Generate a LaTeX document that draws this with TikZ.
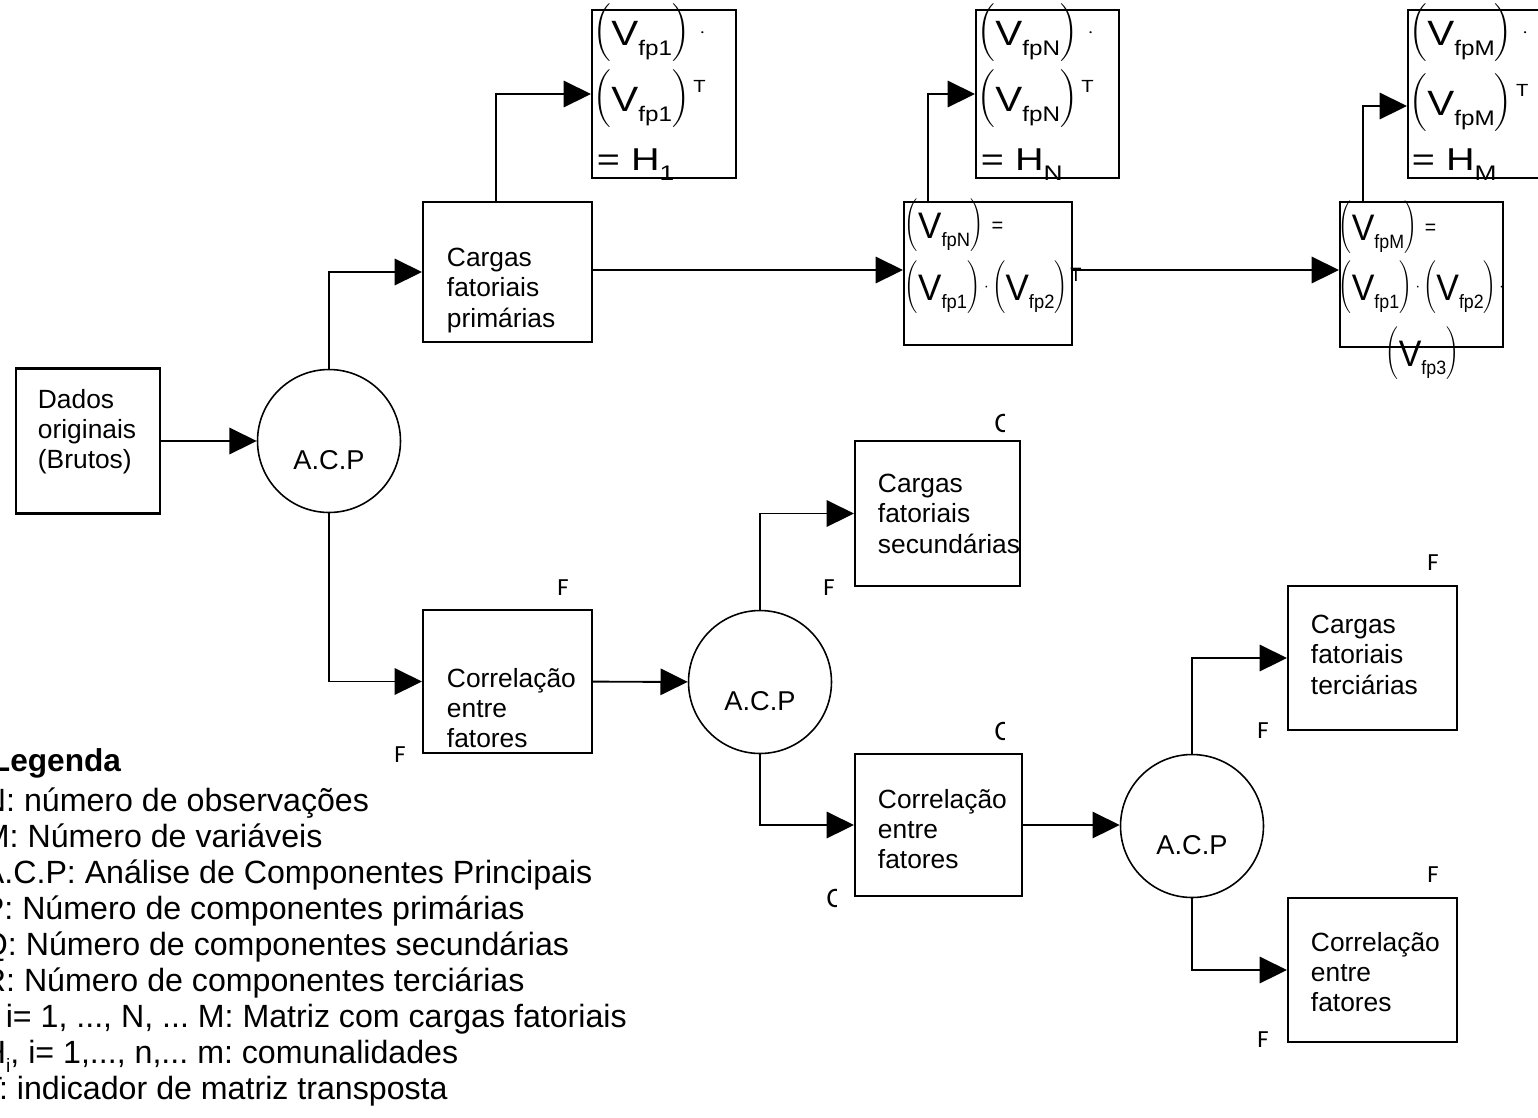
\documentclass[tikz,border=0pt]{standalone}
\usepackage{amsmath}
\usepackage{fontspec}
\setmainfont{Liberation Sans}
\newfontfamily\marcafont{Carlito}
\usetikzlibrary{positioning,arrows.meta}
% V_fp nas caixas H (matematica a 11pt) e nas caixas V (a 10pt)
\newcommand{\VH}[1]{\left(\rule[-10.25pt]{0pt}{26pt}\raisebox{-4.4pt}{\fontsize{20}{20}\selectfont V\raisebox{-5.5pt}{\fontsize{12}{12}\selectfont fp#1}}\right)}
\newcommand{\VV}[1]{\left(\rule[-9pt]{0pt}{23pt}\raisebox{-5pt}{\fontsize{21}{21}\selectfont V\raisebox{-4.5pt}{\fontsize{11}{11}\selectfont fp#1}}\right)}
\newcommand{\supT}[2]{\raisebox{#1}{\fontsize{#2}{#2}\selectfont T}}
\newcommand{\Hsub}[1]{\fontsize{18}{18}\selectfont = H\raisebox{-5.7pt}{\fontsize{12}{12}\selectfont #1}}
\newcommand{\igual}{\mkern6mu\raisebox{-2pt}{\fontsize{12}{12}\selectfont =}}

\begin{document}
\begin{tikzpicture}[x=0.02cm, y=-0.02cm,
    >={Triangle[length=15.5pt,width=15pt]},
    line width=1.1pt,
    caixa/.style 2 args={draw, line width=1.2pt, minimum width=#1, minimum height=#2, inner sep=0pt},
    acp/.style={draw, circle, line width=0.9pt, minimum size=2.86cm, inner sep=0pt,
                label={[font=\fontsize{15.5}{15.5}\selectfont, yshift=-11pt]center:A.C.P}},
    texto/.style={anchor=north west, inner sep=0pt, align=left, font=\fontsize{15}{17.3}\selectfont},
    eqH/.style={anchor=west, inner sep=0pt, font=\fontsize{11}{13}\selectfont},
    eqV/.style={anchor=west, inner sep=0pt, font=\fontsize{10}{12}\selectfont},
    marca/.style={inner sep=0pt, font=\marcafont\fontsize{14}{14}\selectfont},
  ]
  \useasboundingbox (0,0) rectangle (1538,1117);
  \clip (0,0) rectangle (1538,1117);

  % caixas e circulos
  \node[caixa={2.88cm}{2.9cm}] (dados) at (88,441) {};
  \node[acp] (acp1) at (329,441) {};
  \node[caixa={3.38cm}{2.8cm}] (cprim) at (507.5,272) {};
  \node[caixa={2.88cm}{3.36cm}] (h1) at (664,94) {};
  \node[caixa={3.36cm}{2.86cm}] (vN) at (988,273.5) {};
  \node[caixa={2.86cm}{3.36cm}] (hN) at (1047.5,94) {};
  \node[caixa={3.26cm}{2.9cm}] (vM) at (1421.5,274.5) {};
  \node[caixa={3.2cm}{3.36cm}] (hM) at (1488,94) {};
  \node[caixa={3.38cm}{2.86cm}] (corr1) at (507.5,681.5) {};
  \node[acp] (acp2) at (760,682) {};
  \node[caixa={3.3cm}{2.9cm}] (csec) at (937.5,513.5) {};
  \node[caixa={3.34cm}{2.84cm}] (corr2) at (938.5,825) {};
  \node[acp] (acp3) at (1192,826) {};
  \node[caixa={3.38cm}{2.88cm}] (cterc) at (1372.5,658) {};
  \node[caixa={3.38cm}{2.88cm}] (corr3) at (1372.5,970) {};

  % textos
  \node[texto] (dados-t) at (37,388) {Dados\\originais\\(Brutos)};
  \node[texto] (cprim-t) at (446,247) {Cargas\\fatoriais\\primárias};
  \node[texto] (corr1-t) at (446,667) {Correlação\\entre\\fatores};
  \node[texto] (csec-t) at (877,473) {Cargas\\fatoriais\\secundárias};
  \node[texto] (corr2-t) at (877,788) {Correlação\\entre\\fatores};
  \node[texto] (cterc-t) at (1310,614) {Cargas\\fatoriais\\terciárias};
  \node[texto] (corr3-t) at (1310,931) {Correlação\\entre\\fatores};

  % matrizes
  \node[eqH] (h1-a) at (593,33) {\scalebox{1.15}[1]{$\VH{1}\;\cdot$}};
  \node[eqH] (h1-b) at (593,99) {\scalebox{1.15}[1]{$\VH{1}\supT{6.5pt}{10}$}};
  \node[eqH, anchor=base west] (h1-c) at (596,170) {\scalebox{1.25}[1]{\Hsub{1}}};
  \node[eqH] (hN-a) at (977,33) {\scalebox{1.15}[1]{$\VH{N}\;\cdot$}};
  \node[eqH] (hN-b) at (977,99) {\scalebox{1.15}[1]{$\VH{N}\supT{6.5pt}{10}$}};
  \node[eqH, anchor=base west] (hN-c) at (980,170) {\scalebox{1.25}[1]{\Hsub{N}}};
  \node[eqH] (hM-a) at (1409,33) {\scalebox{1.15}[1]{$\VH{M}\;\cdot$}};
  \node[eqH] (hM-b) at (1409,103) {\scalebox{1.15}[1]{$\VH{M}\supT{6.5pt}{10}$}};
  \node[eqH, anchor=base west] (hM-c) at (1411,170) {\scalebox{1.25}[1]{\Hsub{M}}};
  \node[eqV] (vN-a) at (904,225) {\scalebox{0.95}[1]{$\VV{N}\igual$}};
  \node[eqV] (vN-b) at (904,287) {\scalebox{0.95}[1]{$\VV{1}\cdot\VV{2}\supT{5.6pt}{11}$}};
  \node[eqV] (vM-a) at (1338,227) {\scalebox{0.92}[1]{$\VV{M}\igual$}};
  \node[eqV] (vM-b) at (1338,287) {\scalebox{0.92}[1]{$\VV{1}\cdot\VV{2}\cdot$}};
  \node[eqV] (vM-c) at (1385,353) {\scalebox{0.92}[1]{$\VV{3}$}};

  % ligacoes
  \draw[->] (dados) -- (acp1);
  \draw[->] (acp1.north) |- (cprim);
  \draw[->] ([xshift=1.48cm]cprim.north west) |- (h1);
  \draw[->] (cprim.east |- 0,270) -- (vN.west |- 0,270);
  \draw[->] ([xshift=0.5cm]vN.north west) |- (hN);
  \draw[->] (vN.east |- 0,270) -- (vM.west |- 0,270);
  \draw[->] ([xshift=0.48cm]vM.north west) |- ([yshift=-0.24cm]hM.west);
  \draw[->] (acp1.south) |- (corr1);
  \draw[->] (corr1) -- (acp2);
  \draw[->] (acp2.north) |- (csec);
  \draw[->] (acp2.south) |- (corr2);
  \draw[->] (corr2.east) -- (corr2.east -| acp3.west);
  \draw[->] (acp3.north) |- (cterc);
  \draw[->] (acp3.south) |- (corr3);

  % marcas soltas
  \foreach \fx/\fy [count=\k] in {563/588, 400/755, 829/588, 1433/563, 1263/731, 1433/875, 1263/1040}
    \node[marca] (f\k) at (\fx,\fy) {F};
  \foreach \cx/\cy [count=\k] in {1002/423, 1002/731, 834/898} {
    \begin{scope}
      \clip (\cx-10,\cy-15) rectangle (\cx+2.5,\cy+15);
      \node[marca, font=\marcafont\fontsize{16}{16}\selectfont] (c\k) at (\cx,\cy) {C};
    \end{scope}
  }

  % legenda
  \node[anchor=north west, inner sep=0pt, font=\bfseries\fontsize{18}{18}\selectfont] (leg-tit) at (-10,748) {Legenda};
  \node[anchor=north west, inner sep=0pt, align=left, font=\fontsize{18.3}{20.5}\selectfont\frenchspacing] (legenda) at (-18,787) {
    N: número de observações\\
    M: Número de variáveis\\
    A.C.P: Análise de Componentes Principais\\
    P: Número de componentes primárias\\
    Q: Número de componentes secundárias\\
    R: Número de componentes terciárias\\
    \hspace*{13pt}i= 1, ..., N, ... M: Matriz com cargas fatoriais\\
    H\raisebox{-5pt}{\fontsize{11}{11}\selectfont i}, i= 1,..., n,... m: comunalidades\\
    T: indicador de matriz transposta};
\end{tikzpicture}
\end{document}
